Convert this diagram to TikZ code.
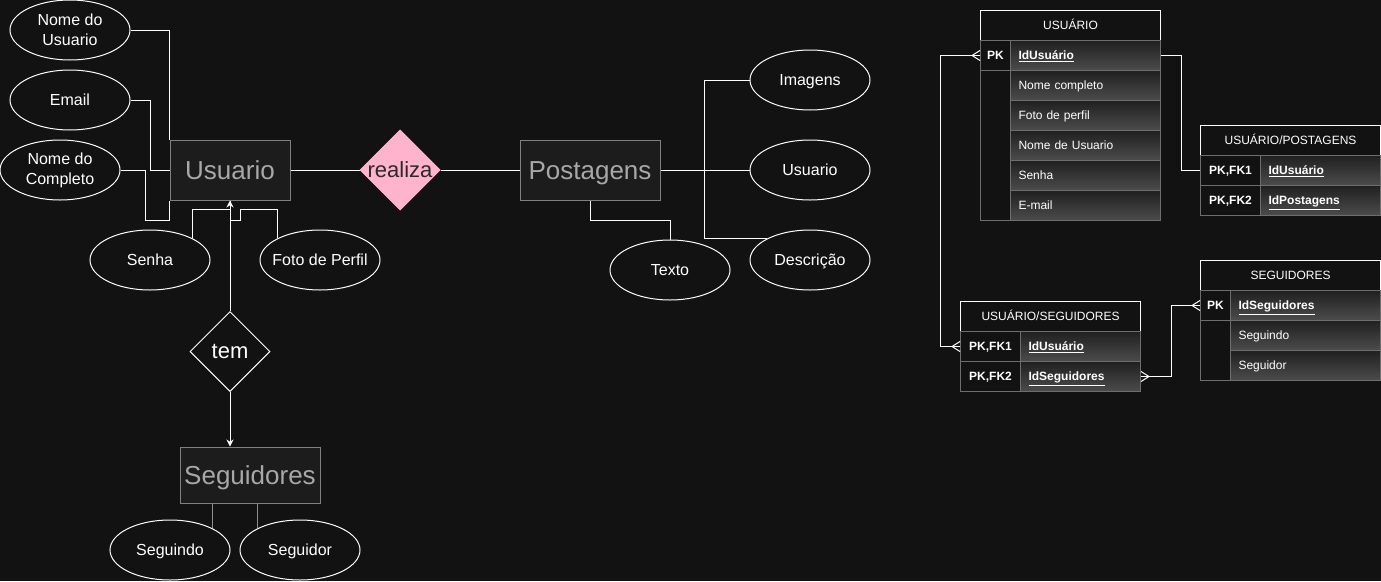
\documentclass[tikz,border=0pt]{standalone}
\usepackage{fontspec}
\setmainfont{Liberation Sans}
\usetikzlibrary{shapes.geometric,arrows.meta,calc}
\definecolor{bg}{HTML}{121212}
\definecolor{entfill}{HTML}{1C1C1C}
\definecolor{entstroke}{HTML}{808080}
\definecolor{enttext}{HTML}{A8A8A8}
\definecolor{relpink}{HTML}{FFB3CC}
\definecolor{reltext}{HTML}{2A2A2A}
\definecolor{rowline}{HTML}{6E6E6E}
\definecolor{celltop}{HTML}{202020}
\definecolor{cellbot}{HTML}{4C4C4C}
\definecolor{greyline}{HTML}{8C8C8C}
\newcommand{\crowfoot}[2]{\draw[conn] ($(#1)+(#2*8,0)$) -- ($(#1)+(0,-5)$) ($(#1)+(#2*8,0)$) -- ($(#1)+(0,5)$);}
\begin{document}
\begin{tikzpicture}[x=1pt,y=-1pt,
 attr/.style={ellipse, draw=white, line width=1pt, fill=bg, minimum width=120pt, minimum height=60pt, inner sep=0pt, text=white, align=center, font=\fontsize{16}{20}\selectfont},
 attrone/.style={attr, text height=11.5pt, text depth=0pt},
 entity/.style={rectangle, draw=entstroke, line width=1pt, fill=entfill, text=enttext, inner sep=0pt, text height=18.6pt, text depth=0pt, font=\fontsize{26}{30}\selectfont},
 relbox/.style={diamond, aspect=1, inner sep=0pt, minimum size=80pt, line width=1pt, font=\fontsize{22}{26}\selectfont},
 conn/.style={draw=white, line width=1pt},
 attrline/.style={draw=greyline, line width=1pt},
 arr/.style={conn, -{Stealth[length=7pt,width=7pt]}},
 thead/.style={rectangle, anchor=north west, draw=white, fill=bg, line width=1pt, minimum height=30pt, inner sep=0pt, text height=8.6pt, text depth=0pt, text=white, font=\fontsize{12}{14}\selectfont},
 keycell/.style={rectangle, anchor=north west, draw=rowline, fill=bg, line width=1pt, minimum height=30pt, inner sep=0pt, text height=8.6pt, text depth=0pt, text=white, font=\fontsize{12}{14}\selectfont\bfseries},
 fieldcell/.style={rectangle, anchor=north west, draw=rowline, top color=celltop, bottom color=cellbot, line width=1pt, minimum height=30pt, inner xsep=8pt, inner ysep=0pt, text width=#1, text height=8.6pt, text depth=0pt, align=left, text=white, font=\fontsize{12}{14}\selectfont},
]
\fill[bg] (0,0) rectangle (1381,581);
\useasboundingbox (0,0) rectangle (1381,581);

% ---------- conceptual model ----------
\node[entity, minimum width=120pt, minimum height=60pt] (u) at (230,170) {Usuario};
\node[attr] (a1) at (70,30) {Nome do\\Usuario};
\node[attrone] (a2) at (70,100) {Email};
\node[attr] (a3) at (60,170) {Nome do\\Completo};
\node[attrone] (a4) at (150,260) {Senha};
\node[attrone] (a5) at (320,260) {\makebox[0pt]{Foto de Perfil}};
\node[relbox, fill=relpink, draw=relpink, text=reltext] (r) at (400,170) {\makebox[0pt]{realiza}};
\node[relbox, draw=white, fill=bg, text=white] (t) at (230,351.5) {tem};
\node[entity, minimum width=140pt, minimum height=56pt] (s) at (250,475) {Seguidores};
\node[attrone] (s1) at (170,550) {Seguindo};
\node[attrone] (s2) at (300,550) {Seguidor};
\node[entity, minimum width=140pt, minimum height=60pt] (p) at (590,170) {Postagens};
\node[attrone] (p1) at (810,80) {Imagens};
\node[attrone] (p2) at (810,170) {Usuario};
\node[attrone] (p3) at (810,260) {Descrição};
\node[attrone] (p4) at (670,270) {Texto};

\draw[conn] (u.east) -- (r.west);
\draw[conn] (r.east) -- (p.west);
\draw[conn] (a1.east) -| (u.north west);
\draw[conn] (a2.east) -- ++(20,0) |- (u.west);
\draw[conn] (a3.east) -- ++(25,0) -- ++(0,50) -| (u.south west);
\draw[conn] (a4.north east) -- ++(0,-28.8) -| (u.south);
\draw[conn] (a5.north west) -- ++(0,-28.8) -| ($(u.south)+(10,20)$) -- ($(u.south)+(0,20)$);
\draw[arr] (t.north) -- (u.south);
\draw[arr] (t.south) -- (t.south |- s.north);
\draw[attrline] (s1.north east) -- (s1.north east |- s.south);
\draw[attrline] (s2.north west) -- (s2.north west |- s.south);
\draw[conn] (p.east) -- (p2.west);
\draw[conn] (p1.west) -- ++(-45,0) |- (p3.north west);
\draw[conn] (p.south) -- ++(0,20) -| (p4.north);

% ---------- USUARIO table ----------
\node[thead, minimum width=180pt] (uh) at (980,10) {USUÁRIO};
\node[keycell, minimum width=30pt] (uk1) at (980,40) {PK};
\node[fieldcell=134pt] (uf1) at (1010,40) {\bfseries\underline{IdUsuário}};
\node[keycell, minimum width=30pt, minimum height=150pt] (uk2) at (980,70) {};
\node[fieldcell=134pt] (uf2) at (1010,70) {Nome completo};
\node[fieldcell=134pt] (uf3) at (1010,100) {Foto de perfil};
\node[fieldcell=134pt] (uf4) at (1010,130) {Nome de Usuario};
\node[fieldcell=134pt] (uf5) at (1010,160) {Senha};
\node[fieldcell=134pt] (uf6) at (1010,190) {E-mail};

% ---------- USUARIO/POSTAGENS table ----------
\node[thead, minimum width=180pt] (uph) at (1200,125) {USUÁRIO/POSTAGENS};
\node[keycell, minimum width=60pt] (upk1) at (1200,155) {PK,FK1};
\node[fieldcell=104pt] (upf1) at (1260,155) {\bfseries\underline{IdUsuário}};
\node[keycell, minimum width=60pt] (upk2) at (1200,185) {PK,FK2};
\node[fieldcell=104pt] (upf2) at (1260,185) {\bfseries\underline{IdPostagens}};

% ---------- USUARIO/SEGUIDORES table ----------
\node[thead, minimum width=180pt] (ush) at (960,301) {USUÁRIO/SEGUIDORES};
\node[keycell, minimum width=60pt] (usk1) at (960,331) {PK,FK1};
\node[fieldcell=104pt] (usf1) at (1020,331) {\bfseries\underline{IdUsuário}};
\node[keycell, minimum width=60pt] (usk2) at (960,361) {PK,FK2};
\node[fieldcell=104pt] (usf2) at (1020,361) {\bfseries\underline{IdSeguidores}};

% ---------- SEGUIDORES table ----------
\node[thead, minimum width=180pt] (sh) at (1200,260) {SEGUIDORES};
\node[keycell, minimum width=30pt] (sk1) at (1200,290) {PK};
\node[fieldcell=134pt] (sf1) at (1230,290) {\bfseries\underline{IdSeguidores}};
\node[keycell, minimum width=30pt, minimum height=60pt] (sk2) at (1200,320) {};
\node[fieldcell=134pt] (sf2) at (1230,320) {Seguindo};
\node[fieldcell=134pt] (sf3) at (1230,350) {Seguidor};

% ---------- table connectors ----------
\draw[conn] (uf1.east) -- ++(20,0) |- (upk1.west);
\draw[conn] (uk1.west) -- ++(-40,0) |- (usk1.west);
\crowfoot{uk1.west}{-1}
\crowfoot{usk1.west}{-1}
\draw[conn] (usf2.east) -- ++(30,0) |- (sk1.west);
\crowfoot{usf2.east}{1}
\crowfoot{sk1.west}{-1}
\end{tikzpicture}
\end{document}
